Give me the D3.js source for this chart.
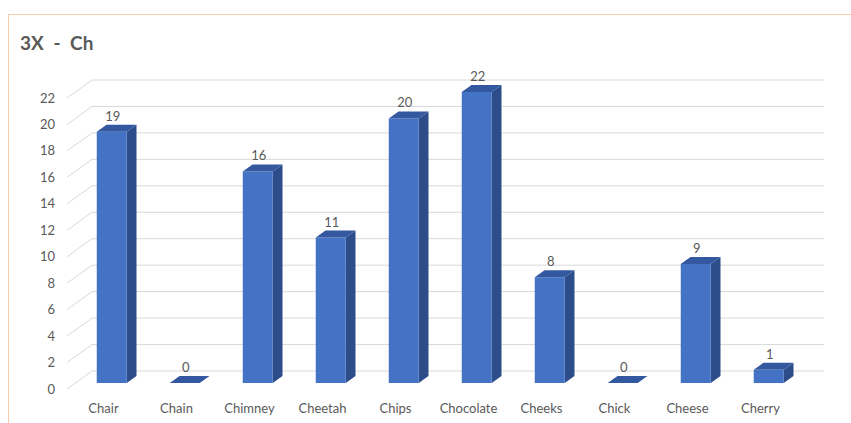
<!DOCTYPE html>
<html>
<head>
<meta charset="utf-8">
<script src="https://cdn.jsdelivr.net/npm/d3@7"></script>
<style>
  html, body { margin: 0; padding: 0; background: #ffffff; }
  svg { display: block; }
  text { font-family: Lato, "Open Sans", sans-serif; fill: #595959; }
</style>
</head>
<body>
<svg id="chart" width="851" height="423"></svg>
<script>
// Word counts per "Ch" word
const categories = ["Chair", "Chain", "Chimney", "Cheetah", "Chips", "Chocolate", "Cheeks", "Chick", "Cheese", "Cherry"];
const values = [19, 0, 16, 11, 20, 22, 8, 0, 9, 1];
const yTicks = [0, 2, 4, 6, 8, 10, 12, 14, 16, 18, 20, 22];
const chartTitle = "3X - Ch";

const svg = d3.select("#chart");

// Outer frame
svg.append("rect")
  .attr("x", 8.5).attr("y", 14.5)
  .attr("width", 1000).attr("height", 1000)
  .attr("fill", "none").attr("stroke", "#f8cbad").attr("stroke-width", 1);

// Title
svg.append("text")
  .attr("x", 20).attr("y", 50)
  .attr("font-size", 19).attr("font-weight", "bold")
  .attr("word-spacing", 5)
  .text(chartTitle);

// Floor front edge: baseline y and left/right extents; depth skew
const floorY = 389;
const depthDX = 25, depthDY = -18;

const x = d3.scaleBand().domain(categories).range([67, 797]).paddingInner(0).paddingOuter(0);
const y = d3.scaleLinear().domain([0, 22]).range([0, 291]);

// Project a point at front x, value v, depth d (0 = front, 1 = back wall)
function proj(px, v, d) {
  return [px + d * depthDX, floorY - y(v) + d * depthDY];
}

// Back wall gridlines + diagonal floor-to-wall ticks
const grid = svg.append("g");
yTicks.forEach(t => {
  const a = proj(x.range()[0], t, 0);
  const b = proj(x.range()[0], t, 1);
  const c = proj(x.range()[1] + 2, t, 1);
  grid.append("path")
    .attr("d", `M${a[0]},${a[1]}L${b[0]},${b[1]}L${c[0]},${c[1]}`)
    .attr("fill", "none").attr("stroke", "#d9d9d9").attr("stroke-width", 1);
  grid.append("text")
    .attr("x", 55).attr("y", a[1] + 4.5)
    .attr("text-anchor", "end").attr("font-size", 13)
    .text(t);
});

// 3D bars
const barW = 30;
const d0 = 0.33, d1 = 0.72;
const bars = svg.append("g");
categories.forEach((cat, i) => {
  const v = values[i];
  const xl = x(cat) + (x.bandwidth() - barW) / 2;
  const xr = xl + barW;
  const fbl = proj(xl, 0, d0), fbr = proj(xr, 0, d0);
  const ftl = proj(xl, v, d0), ftr = proj(xr, v, d0);
  const btl = proj(xl, v, d1), btr = proj(xr, v, d1);
  const bbr = proj(xr, 0, d1);
  const poly = pts => "M" + pts.map(p => p.join(",")).join("L") + "Z";
  // right side
  bars.append("path").attr("d", poly([fbr, ftr, btr, bbr])).attr("fill", "#2c4d8a");
  // front
  bars.append("path").attr("d", poly([fbl, ftl, ftr, fbr])).attr("fill", "#4472c4");
  // top
  bars.append("path").attr("d", poly([ftl, btl, btr, ftr])).attr("fill", "#3358a0");
  // value label
  bars.append("text")
    .attr("x", (ftl[0] + ftr[0]) / 2 + 1)
    .attr("y", btl[1] - 4)
    .attr("text-anchor", "middle").attr("font-size", 13)
    .text(v);
});

// Category labels
svg.append("g").selectAll("text").data(categories).join("text")
  .attr("x", d => x(d) + x.bandwidth() / 2)
  .attr("y", 413)
  .attr("text-anchor", "middle").attr("font-size", 13)
  .text(d => d);
</script>
</body>
</html>
